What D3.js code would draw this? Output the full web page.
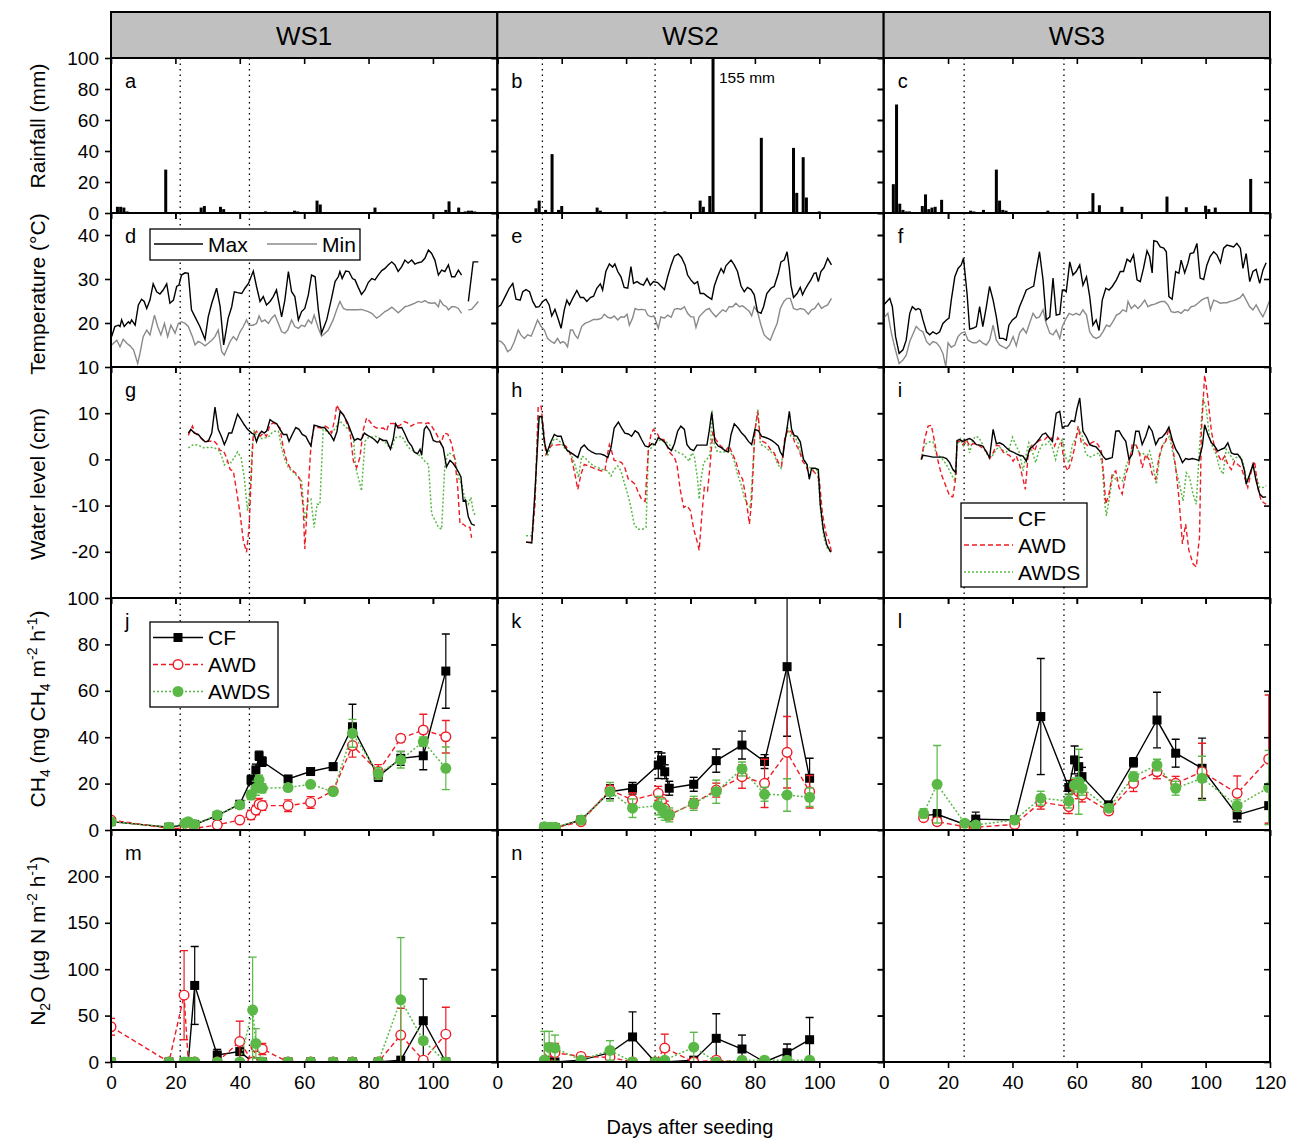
<!DOCTYPE html>
<html lang="en">
<head>
<meta charset="UTF-8">
<title>Rainfall, temperature, water level, CH4 and N2O</title>
<script src="https://cdn.jsdelivr.net/npm/d3@7"></script>
<style>
  body { margin: 0; background: #fff; }
  text { font-family: "Liberation Sans", Arial, sans-serif; }
</style>
</head>
<body>
<svg id="chart" width="1296" height="1138"></svg>
<script>
// ---------- data ----------
const sites = ["WS1", "WS2", "WS3"];
const floodDays = [[21.5, 43], [14, 49], [25, 56]];   // dotted vertical lines per site

// daily rainfall [day, mm]
const rainWS1 = [[2,4],[3,4],[4,3.5],[5,1],[17,28],[28,3.5],[29,4.5],[34,4],[35,2.5],[48,1],[57,1.5],[58,1],[64,8],[65,5.5],[82,3.5],[104,2],[105,7.5],[108,3.5],[110,1],[111,1.5],[112,1.5],[113,1]];
const rainWS2 = [[12,3],[13,8],[15,2],[17,38],[19,2],[20,4.5],[31,3.5],[32,1.5],[52,1],[63,8],[64,4],[66,11],[67,155],[82,48.5],[92,42],[93,13],[95,36],[96,10],[100,1]];
const rainWS3 = [[3,18.6],[4,70],[5,6],[6,2],[7,1],[8,1],[12,4.5],[13,12],[14,2.5],[15,3.5],[16,4],[18,8.5],[27,1.5],[28,1],[31,2],[35,28],[36,8],[37,2],[38,1.5],[41,0.5],[51,1.5],[64,1],[65,12.8],[67,5],[74,4],[88,10.6],[94,3.7],[100,4.7],[101,2.5],[103,3.5],[114,22]];

// air temperature [day, °C]
const tmaxWS1 = [[0.2,16.9],[1.2,19.2],[2.3,19.5],[2.8,19.2],[3.3,20.7],[4.1,19.2],[5.4,20.3],[5.9,19.9],[6.4,20.7],[7.5,19.5],[8.5,24.1],[9.5,25.4],[10.3,24.9],[11.1,23.3],[12.1,25.2],[13.1,28.9],[14.2,27.1],[15.2,26.6],[16.2,27.5],[17.3,28.9],[18.3,24.5],[19.4,25.2],[20.4,28.3],[21.1,28.6],[21.9,30.9],[23,31.4],[24,31.3],[25,23],[26.1,21.4],[27.6,19.2],[29.2,16.3],[30.2,21.4],[31.3,24.5],[32.8,27.9],[33.9,23.7],[35,15],[36.4,21.1],[37.5,23.7],[38.3,27.1],[39.3,26.9],[40.6,26.7],[41.6,27.9],[42.7,29],[44.2,31.8],[45.2,28.3],[46.3,24.9],[47.3,26],[48.3,24.1],[49.4,24.9],[50.4,26],[51.4,27.5],[53,21.4],[54,25.2],[55.1,31.7],[56.1,27.1],[57.1,26],[58.2,20.7],[59.2,22.6],[60.2,23.3],[61.3,26.4],[62.3,30.9],[63.4,30.5],[64.4,23],[65.4,17.7],[67,20.7],[68.5,25.6],[69.6,29.4],[70.6,30.5],[71.1,31.7],[71.8,30.1],[72.9,31.8],[73.9,31.7],[75,30.1],[75.8,29.8],[76.8,28.1],[77.8,26.5],[78.9,27.5],[79.9,29.2],[81,30.1],[82,29.8],[83,30.9],[84.1,31.9],[85.1,32.4],[86.1,33.2],[87.2,33.9],[88.2,33.2],[89.2,31.7],[90.3,32.8],[91.3,34.3],[92.3,33.6],[93.4,34.3],[94.4,33.4],[95.4,33.7],[96.5,33.9],[97.5,34.7],[98.6,36.6],[99.6,35.8],[100.6,34.3],[101.7,30.9],[102.7,32],[103.7,31.7],[104.8,33.2],[105.8,30.5],[106.8,30.5],[107.9,32],[108.9,30.9],[110,null],[111,24.9],[112.5,33.9],[114.1,33.9]];
const tminWS1 = [[0.2,15],[1.8,16.1],[2.8,14.6],[3.8,16.3],[4.9,15.4],[5.9,14.8],[7,13.9],[8.3,10.8],[9,13.1],[10,16.9],[11.1,18.4],[12.1,17.3],[13.5,21.8],[14.5,19.2],[15.5,17.3],[16.6,19.9],[17.6,16.9],[18.6,19.5],[19.9,17.7],[20.9,19.9],[21.9,20.3],[23,19.9],[24,19.2],[25.3,16.9],[26.1,15],[27.1,15.8],[28.2,15.4],[29.2,14.8],[30.2,15.4],[31.3,16.1],[32.3,16.9],[33.3,18.4],[34.4,13.5],[35.2,12.7],[35.9,13.9],[37,15.8],[38,16.9],[39,16.1],[40.1,18],[41.1,19.2],[42.1,20.7],[42.9,19.5],[44.2,19.5],[45.2,19.9],[46,21.6],[46.8,20.3],[47.8,20.7],[48.9,19.9],[49.9,21.1],[50.9,21.8],[52,19.9],[53,18],[54,17.7],[54.9,18.4],[56.1,20.7],[57.1,19.2],[58.2,18.8],[59.2,19.5],[60.2,19.2],[61.3,20.7],[62.3,19.9],[63.1,21.8],[64.4,18.8],[65.4,17],[66.5,17.7],[67.5,18.4],[69,20.7],[70.1,23],[71.1,24.9],[72.2,23.3],[73.2,23],[74.7,23],[76.8,23],[77.8,23.1],[79.9,22.6],[81,22.2],[82.5,21.1],[83.5,21.6],[85.1,22.6],[86.1,23],[87.2,23.6],[88.2,23],[89.2,22.3],[90.3,23],[91.3,23.7],[92.3,23.9],[93.4,24.2],[94.4,24.5],[95.4,24.9],[96.5,24.7],[97.5,25.1],[98.6,24.6],[99.6,24.5],[100.6,24.6],[101.7,23.7],[102.2,25.2],[103.2,24.1],[104.2,23.7],[104.8,23],[105.8,23.7],[106.8,23.7],[107.9,23.3],[108.9,22.2],[110,null],[111,23],[112,23.1],[114.1,24.9]];
const tmaxWS2 = [[0.1,23.6],[1.1,24.1],[2.7,26.4],[3.7,27.9],[4.8,29],[5.8,25.4],[7.1,25.2],[7.9,27.1],[8.9,27.6],[10,27.1],[11,24.9],[12,23.6],[13,23.7],[14.1,24.9],[15.1,25.4],[16.1,24.1],[16.9,21.6],[17.9,23.1],[19,20.7],[19.8,18.8],[20.8,23],[21.6,25.2],[22.4,24.1],[23.4,25.6],[24.7,27.4],[25.8,25.8],[26.8,25.8],[27.8,24.9],[28.9,25.8],[29.9,26.1],[30.9,27.9],[32,28.9],[32.7,27.5],[33.7,31.7],[34.8,33.4],[35.8,32.7],[36.5,33.4],[37.4,31.7],[38.4,30.5],[39.4,28.1],[40.5,27.9],[41.5,32.8],[42.3,29],[43.4,29.4],[44.4,28.9],[45.4,28.6],[46.5,30.1],[47.5,28.6],[48.5,29.4],[49.8,29.2],[50.8,28.4],[51.9,27.6],[52.9,30.5],[54,33.2],[55,35.2],[56.2,35.7],[57.2,34.9],[58.3,33.2],[59.1,30.9],[60.1,29.8],[61.2,28.9],[62.2,29.4],[63,26.7],[64.1,26.7],[65.1,26.1],[66.6,25.4],[67.4,28.4],[68.4,30.5],[69.5,32.4],[70.3,31.4],[71,33],[72.6,34.3],[73.6,33.2],[74.6,31.7],[75.7,28.4],[76.7,27.1],[77.7,28.1],[78.8,27.6],[79.8,26.4],[80.8,22.6],[81.9,22.2],[82.7,23.7],[83.7,26.7],[85,27.9],[86,28.3],[87.3,31.3],[88.1,33.9],[89.1,34.3],[90,36.2],[90.7,32.4],[91.2,28.6],[92,25.8],[93.1,26.7],[94.1,28.1],[94.8,26.4],[95.5,27.5],[96.6,28.9],[97.4,29.8],[98.4,31.3],[99,31.4],[99.7,29.4],[100.5,31.7],[101.5,32.6],[102.6,34.7],[103.8,33.2]];
const tminWS2 = [[0.1,16],[1.1,15.8],[2.2,15],[3.2,13.5],[4.2,14],[5.3,15.8],[6.5,18.4],[7.3,17.3],[8.4,16.5],[9.4,17.3],[10.5,17],[11.3,18.4],[12.5,20.7],[13.6,19.2],[14.6,18.4],[15.6,16.5],[16.7,15.8],[17.7,15.4],[18.7,16.5],[19.6,15.4],[20.3,15.8],[21,15.5],[21.8,14.6],[22.7,18.4],[23.4,18.4],[24.1,17.3],[25,16.5],[26.2,19.2],[27.2,19.9],[28.6,20.3],[29.9,20.8],[31.2,20.8],[32.4,21.1],[33.2,22],[34.3,21.3],[35.3,21.1],[36.3,21.6],[37.4,20.7],[38.4,21.4],[39.4,21.3],[40.3,22],[41,19.5],[42,21.1],[42.8,23.3],[43.8,23],[44.8,23.1],[45.9,23],[46.7,21.8],[47.7,21.4],[48.6,21.6],[49.3,20.3],[50,18.8],[50.8,21.4],[51.9,21.1],[52.9,21.8],[54,21.3],[55,23.1],[56,23.3],[57,23.1],[58.1,23.7],[59.1,22.2],[60.1,21.4],[61,21.4],[61.7,19],[62.7,21.4],[63.8,22.3],[64.8,23],[65.8,23.3],[66.9,22.2],[67.9,21.4],[69,22.3],[70,23],[71,22.6],[72,23.7],[73.1,23.7],[74.1,24.5],[75.2,23.7],[76.2,23.9],[77.2,23.3],[78.3,22.6],[79,21.6],[79.8,23.7],[80.8,22.6],[81.9,19.5],[82.9,17.3],[84,16.5],[84.8,16.1],[85.8,18],[86.9,19.9],[87.9,23.3],[89,24.9],[90,25.6],[91,25.6],[92,23.3],[93.1,23],[94.1,23.3],[95.3,23.1],[96.6,22],[97.6,23],[98.6,23.3],[99.7,24.5],[100.7,23.3],[101.5,23.7],[102.6,24.1],[103.8,25.6]];
const tmaxWS3 = [[0,24.1],[1,24.9],[1.9,25.6],[2.7,23.7],[3.7,16.9],[4.8,13.1],[6,13.9],[7,16.1],[8.1,22.2],[8.9,23.7],[10,23],[10.7,23.3],[11.4,23],[12.2,20.7],[13.3,18],[14.3,17.3],[15.3,18],[16.4,17.5],[17.4,18],[18.4,19.9],[19.5,20.7],[20.3,21.1],[21,25.2],[22.1,30.5],[23.1,32.4],[24.1,33.2],[24.8,34.7],[25.9,26.7],[26.7,18.6],[27.7,18.8],[28.8,19.2],[29.8,23.7],[30.8,19.2],[31.9,23.7],[32.9,28.3],[34,25.2],[35,21.4],[36,16.5],[37.1,16.5],[38.1,16.1],[38.9,19.5],[40,20.7],[41.2,21.4],[42.2,23.7],[43.3,25.6],[44.3,27.5],[45.3,27.9],[46.6,28.4],[47.4,32],[48.4,36.2],[49.5,29.8],[50.5,20.7],[51.6,21.4],[52.6,30.2],[53.6,21.8],[54.7,22],[55.5,27.5],[56.2,27.5],[56.7,27.1],[57.8,33.9],[58.8,30.9],[59.8,31.7],[60.9,33.2],[61.9,28.6],[63,30.5],[64,26],[65,19.5],[66,20.7],[66.9,18.3],[67.9,25.2],[69,27.9],[70,27.5],[71,28.3],[72.3,29.8],[73.5,31.7],[74.5,31.7],[75.6,34.5],[76.6,33.9],[77.6,35.5],[78.7,29.8],[79.7,29.4],[80.7,32.4],[81.8,36.4],[82.6,35.1],[83.4,31.4],[83.9,38.7],[84.9,38.5],[85.9,37.3],[87,37],[87.8,36.2],[88.6,26],[89.6,25.4],[90.7,31.7],[91.7,31.3],[92.4,34.3],[93.5,31.4],[94.5,33.6],[95.2,35.8],[96.3,36],[97.3,38.1],[98.3,30.2],[99.4,29.9],[100.4,33.2],[101.4,35.1],[102.5,36.2],[103.5,35.5],[104.6,33.7],[105.6,37],[106.6,37.7],[107.7,37.5],[108.7,37.3],[109.7,38.1],[110.8,37],[111.6,32.4],[112.6,35.8],[113.7,29.4],[114.7,31.7],[115.7,32.2],[116.8,29],[117.8,32],[118.8,33.7]];
const tminWS3 = [[0,21.1],[1.3,22.2],[2.4,17.7],[3.4,14.6],[4.8,10.8],[6,11.6],[7,12.7],[8.1,15.8],[9.1,17.5],[10.1,19.2],[11.2,18.4],[12.2,18],[13.3,15.8],[14.3,15],[15.3,15.8],[16.4,15.5],[17.4,14.6],[18.4,13.1],[19.3,10.1],[20,15.5],[21,14.5],[22.1,15],[23.1,16.9],[24.1,17.7],[25.2,18],[26.2,16.1],[27.7,15.5],[28.8,15.5],[29.8,16.1],[30.8,15.4],[31.9,15],[32.9,16.1],[34,19.5],[35,16.1],[36,15],[37.1,14.6],[38.1,14.2],[39.1,15],[40.2,16.9],[41.2,14.8],[42.2,17.7],[43.3,18.8],[44.3,17.7],[45.3,19.9],[46.4,22.2],[47.4,21.1],[48.4,21.4],[49.5,23],[50.5,19.9],[51.6,17.7],[52.6,17.3],[53.6,18.4],[54.7,16.5],[55.5,19.2],[56.5,20.8],[57.6,22.2],[58.8,21.8],[59.8,22.2],[60.9,21.8],[61.9,23],[63,21.8],[64,18],[65,16.9],[66,16.5],[67.1,16.9],[68.1,18],[69.2,19.5],[70.2,19.2],[71.2,20.3],[72.3,21.8],[73.3,22.2],[74.3,23],[75.4,22.6],[75.9,24.9],[76.9,23.3],[78,24.1],[79,23.3],[80,24.1],[81.1,25.2],[82.1,23.7],[83.1,24.1],[84.2,24.3],[85.2,24.6],[86.2,24.9],[87.3,24.9],[88.3,24.1],[89.3,22.6],[90.4,22.4],[91.4,22.6],[92.4,22.2],[93.5,23],[94.5,22.8],[95.5,23.7],[96.6,23.9],[97.6,24.5],[98.7,25.2],[99.7,25.6],[100.7,25.8],[101.5,23],[102.5,25.2],[103.5,24.9],[104.6,24.5],[105.6,24.6],[106.6,24.6],[107.7,24.9],[108.7,25.1],[109.7,25.4],[110.8,25.8],[111.6,26.6],[112.6,25.2],[113.7,23.7],[114.7,23],[115.7,24.1],[116.8,22.6],[117.8,21.4],[118.8,23],[119.9,25.2]];

// field water level [day, cm]
const wlCF_WS1 = [[24,5.7],[24.8,6.5],[25.9,5.7],[27.1,5.4],[28.2,4.5],[29.2,3.8],[30.2,3.9],[31.3,5.7],[32.3,11.3],[33.3,6.5],[34.4,4.8],[35.2,3.2],[35.9,4.3],[36.6,5.7],[37.5,5.7],[38.3,7.5],[39.3,9.8],[40.4,8.6],[41.4,7.5],[42.4,6.5],[43.7,5.7],[44.5,5.4],[45.2,3.8],[46,5.4],[46.8,6.1],[47.6,5.7],[48.4,6.2],[49.4,8.6],[50.4,8.1],[51.5,7.7],[52.5,6.5],[53.5,5.4],[54.6,5.4],[55.3,3.9],[56.3,5.4],[57.4,6.9],[58.4,6.5],[59.4,5.4],[60.5,5],[61.3,3.9],[62.1,2.9],[63.1,7.4],[64.2,7.2],[65.4,6.9],[66.3,6.9],[67.3,6.1],[68.3,5.2],[69.2,4.1],[70.2,6.1],[71.2,10.5],[72.3,9.5],[73.5,7.9],[74.5,6.1],[75.6,4.1],[76.6,4.5],[77.6,4.2],[78.7,5.7],[79.7,5.2],[80.8,4.8],[81.8,4.3],[82.8,3.6],[83.5,4.5],[84.6,4.1],[85.6,4.1],[86.8,2.2],[87.7,4.5],[88.4,7.7],[89.2,6.8],[90.3,6.9],[91.3,5.5],[92.3,3.9],[93.4,2.9],[94.2,1.6],[95.2,1.2],[96,2.2],[96.5,0.9],[97.3,6.5],[98,7.2],[99.1,6.1],[100.1,4.1],[101.1,3.8],[102.2,3.8],[103.2,2.5],[104.2,-1.6],[105.3,-0.2],[106.3,-0.9],[107.7,-2.4],[108.7,-3.8],[109.4,-9],[110.1,-8.8],[111,-12.5],[112,-14],[113,-14.3]];
const wlAWD_WS1 = [[24,5.2],[25.3,7.2],[26.1,5.7],[27.3,5],[28.7,4.1],[29.7,4.1],[30.8,3.9],[31.8,4.1],[32.8,3.4],[33.9,1.9],[34.9,1.9],[35.9,0.4],[37,-2.2],[38,-2.5],[39,-6.8],[40.1,-11.8],[41.1,-17.6],[42.1,-20.1],[42.9,-14.7],[43.5,-4.7],[44.2,5.4],[45.2,6.1],[46.3,5],[47.3,5.7],[48.3,5],[49.4,7.5],[50.4,7.9],[51.5,7.5],[52.5,6.8],[53.5,2.5],[54.6,-0.4],[55.6,-1.8],[56.6,-2.5],[57.7,-3.2],[58.7,-4.3],[59.7,-10.4],[60.2,-19.4],[61.1,-8.2],[62.1,2.9],[63.1,7.2],[64.4,6.9],[65.4,6.8],[66.5,7.2],[67.5,6.8],[68.5,5.7],[69.6,9],[70.1,11.8],[71.1,10.4],[72.2,9.7],[73.2,7.9],[74.2,6.1],[75.3,-0.4],[76.3,-1.8],[77.3,0.4],[78.4,6.5],[79.4,9],[80.4,8.2],[81.5,7.2],[82.5,6.8],[83.5,6.7],[84.6,6.8],[85.6,6.1],[86.3,7.7],[87.4,7.8],[88.4,7.7],[89.4,7.2],[90.3,7.7],[91.1,8.2],[92.1,7.9],[93.2,7.2],[94.4,7.7],[95.4,7.9],[96.5,7.9],[97.5,7.7],[98.6,7.9],[99.6,7.2],[100.6,6.1],[101.7,4.7],[102.5,3.4],[103.5,5.7],[104.6,5.5],[105.8,3.4],[106.8,0],[107.7,-6.1],[108.4,-14],[109.4,-14],[110.5,-14.7],[111.5,-14.7],[112,-17]];
const wlAWDS_WS1 = [[24,2.5],[25.6,3.2],[27.1,3.1],[28.7,2.5],[30.2,2.6],[31.8,2.6],[33.3,2.1],[34.4,0.7],[35.2,-1.2],[36.2,-0.4],[37.3,-0.7],[38.3,0.4],[39.3,1.6],[40.4,0.4],[41.4,-3.9],[42.4,-11.1],[43.2,-7.2],[43.9,3.2],[44.5,6.1],[45.5,4.8],[46.8,4.5],[47.8,4.7],[48.9,4.8],[49.9,5.7],[50.9,6.1],[52,6.1],[53,2.5],[54,0],[55.1,-1.8],[56.1,-2.4],[57.1,-3.1],[58.2,-3.9],[59.2,-4.7],[60.2,-13.3],[61.3,-9],[62.1,-8.6],[63.1,-14.7],[64,-9.7],[64.9,-9.7],[65.9,6.5],[67,6.1],[68,5.4],[69,6.1],[70.1,7.2],[71.1,8.3],[72.2,7.5],[73.2,6.8],[74.2,6.1],[75.3,4.7],[76,-1.8],[76.8,-3.9],[77.8,-6.8],[78.9,3.9],[79.9,4.7],[81,4.8],[82,5],[83,4.8],[84.1,4.1],[85.1,3.8],[86.1,2.9],[87.2,2.5],[88.2,4.7],[89.2,4.8],[90.3,5],[91.3,3.9],[92.3,2.6],[93.4,2.1],[94.4,1.6],[95.4,1.1],[96.5,0.4],[97.5,-0.4],[98.6,-1.1],[99.6,-11.8],[100.6,-13.1],[101.7,-14.7],[102.7,-15.1],[103.7,-1.1],[104.8,1.4],[105.8,1.2],[106.8,0.4],[107.9,-3.9],[108.9,-5.4],[110,-8.6],[111,-9.7],[111.8,-8.2],[112.5,-11.1],[113.2,-12.2]];
const wlCF_WS2 = [[8.9,-17.9],[10.7,-18.1],[11.7,-6.8],[13,9.3],[13.8,9.3],[14.6,3.9],[15.4,1.4],[16.5,3.6],[17.7,5.4],[18.7,5],[19.8,5],[20.8,2.9],[21.8,1.9],[23.4,1.2],[25,0.4],[26,2.5],[27,3.1],[28.1,2.2],[29.3,1.6],[30.6,1.2],[32,1.2],[33.2,0.9],[34.3,0.4],[35.3,2.5],[36.3,6.8],[37.6,8.1],[38.6,6.8],[39.6,5.7],[40.7,5.5],[41.7,5],[42.8,6.2],[43.8,5.7],[44.8,4.3],[45.9,2.9],[46.9,2.7],[48,3.4],[49,3.2],[50,4.7],[51,4.3],[52.1,3.6],[53.1,2.5],[54.1,1.9],[55,3.4],[56,6.1],[57,7.2],[58.1,6.5],[58.9,3.2],[60,2.2],[61,1.9],[62,3.1],[63,3.1],[64.1,3.1],[65.1,3.1],[65.8,6.1],[66.6,10.2],[67.6,3.8],[68.6,2.9],[69.7,2.5],[70.7,1.9],[71.7,1.6],[72.6,5.4],[73.6,7.7],[74.8,6.8],[75.9,5.7],[76.9,5],[78,3.9],[79,3.2],[80,6.5],[81.1,6.2],[82.1,5],[83.1,4.8],[84.2,4.5],[85.2,4.1],[86.2,3.6],[87.3,2.9],[87.9,1.6],[88.7,0.7],[89.3,3.8],[90,6.8],[90.7,10.4],[91.4,6.5],[92.2,5.2],[93.1,5],[94.1,3.8],[95.1,0],[96.2,-1.1],[96.9,-4.3],[97.6,-1.9],[98.7,-1.9],[99.7,-2.2],[100.3,-9.7],[101.3,-15.4],[102.4,-18.6],[103.6,-20.1]];
const wlAWD_WS2 = [[8.9,-17.9],[10.7,-17.9],[11.7,-9.7],[12.7,11.5],[13.6,11.5],[14.4,6.1],[15.1,1.1],[16.1,2.5],[17.2,3.2],[18.2,3.1],[19.3,3.2],[20.3,3.2],[21.3,2.9],[22.7,1.2],[23.9,-2.5],[25,-6.5],[26,-3.2],[27,-1.1],[28.3,-1.4],[29.6,-1.8],[31.2,-2.2],[32.4,-2.5],[33.4,-2.5],[34.3,1.4],[34.8,3.2],[35.5,1.8],[36.3,-0.2],[37.6,-0.4],[38.6,-0.7],[39.6,-1.8],[40.7,-4.3],[41.7,-4.7],[42.8,-5.4],[43.8,-7.2],[44.8,-8.6],[45.9,-9.1],[46.9,1.8],[47.7,5.4],[48.5,6.5],[49.6,5.7],[50.6,4.3],[51.7,4.3],[52.7,2.9],[53.7,1.4],[55,0.4],[55.8,-1.1],[56.8,-6.5],[57.9,-10.4],[58.9,-10],[60,-11.1],[61,-15.1],[62,-17.6],[62.7,-19.7],[63.5,-12.2],[64.3,-6.1],[65.3,-6.8],[66.1,-1.1],[66.9,5.7],[67.9,4.3],[69,3.2],[70,2.5],[71,1.9],[72,2.9],[73.1,1.1],[74.1,-0.4],[75.2,-3.2],[76.2,-4.3],[77.2,-8.2],[78.3,-14],[79,-9],[80,6.1],[80.9,10.4],[81.7,4.1],[82.7,3.8],[83.7,3.4],[84.8,2.2],[86,1.4],[87.3,-0.7],[88.3,-1.4],[89.3,4.7],[90.4,6.5],[91.4,5.9],[92.4,3.6],[93.8,1.9],[94.8,-0.4],[95.9,-1.4],[96.9,-3.6],[98,-2.4],[99,-3.2],[100,-4.3],[101,-11.8],[102.1,-16.1],[103.1,-17.9],[103.8,-20.1]];
const wlAWDS_WS2 = [[8.9,-16.5],[10.7,-16.5],[11.7,-8.2],[12.7,8.9],[13.8,9.3],[14.6,3.2],[15.6,0.7],[16.7,3.2],[17.7,4.5],[18.7,4.3],[19.8,3.6],[20.8,2.5],[21.8,1.8],[23.1,0.7],[24.1,-1.1],[25.2,-3.9],[26.2,0.7],[27.2,0.4],[28.6,-0.7],[29.9,-1.4],[31.4,-1.8],[32.7,-2.2],[34.3,-2.5],[35.3,-3.6],[36.3,-2.2],[37.4,-1.4],[38.4,-2.5],[39.4,-5],[40.5,-7.5],[41.5,-10.4],[42.5,-14],[43.6,-15.1],[45.1,-15.1],[46.2,-14.7],[46.9,1.9],[48,2.6],[49,3.6],[50.3,4.1],[51.3,4.3],[52.4,3.8],[53.4,3.2],[54.5,2.5],[55.5,1.8],[56.5,1.4],[57.6,1.1],[58.6,0.4],[59.6,-0.4],[60.4,1.4],[61.2,0.7],[62.2,-4.3],[62.7,-8.6],[63.2,-4.7],[64.1,-0.7],[65.1,0],[66.1,1.1],[66.7,10.8],[67.4,3.2],[68.4,1.6],[69.5,1.6],[70.5,1.6],[71.5,2.4],[72.6,1.4],[73.6,-0.4],[74.6,-3.2],[75.7,-5.4],[76.7,-8.2],[77.7,-9.7],[78.6,-10.4],[79.3,-2.5],[80,6.1],[80.9,10.8],[81.7,3.2],[82.9,2.9],[84,2.2],[85,1.6],[86,1.1],[87.1,-1.1],[88.1,-1.9],[89.1,3.2],[90.2,6.8],[91.2,5],[92.2,5],[93.3,3.8],[94.3,1.1],[95.3,0],[96.4,-1.4],[97.4,-1.9],[98.4,-2.5],[99.5,-2.2],[100.5,-11.8],[101.5,-17.2],[102.6,-19.4],[103.6,-20.1]];
const wlCF_WS3 = [[11.7,0],[12.2,0.9],[13.8,0.7],[15.3,0.5],[16.9,0.5],[18.4,0.5],[19.5,0.2],[20.5,-0.7],[21.5,-2.2],[22.4,-2.9],[22.8,4.1],[23.6,4.3],[24.6,3.9],[25.7,4.3],[26.7,4.5],[27.7,4.1],[28.8,3.2],[29.8,3.1],[30.8,2.9],[31.9,1.6],[32.9,0.4],[34,6.5],[35,3.4],[36,3.6],[37.1,3.2],[38.1,2.5],[39.1,1.9],[40.2,1.6],[41.2,1.2],[42.2,0.9],[43.3,0.7],[44.3,-0.4],[45.3,2.2],[46.4,2.9],[47.4,3.6],[48.2,4.3],[49.3,5.4],[50.3,5.7],[51.4,4.7],[52.4,3.9],[53.6,10],[54.7,10.4],[55.5,6.8],[56.2,7.2],[57.2,7.2],[58.3,8.4],[59.3,8.2],[60,10.8],[60.9,13.3],[61.9,6.1],[63,4.8],[64,3.2],[65,2.9],[66,2.7],[67.1,1.8],[68.1,0.7],[69,0],[70,0.2],[71,0.4],[72.1,6.1],[73.1,6.2],[74.1,5],[75.2,3.9],[76.2,0],[77.2,1.1],[78.3,6.1],[79.3,6.1],[80.3,3.2],[81.4,5],[82.4,7.2],[83.4,6.1],[84.5,3.2],[85.5,4.5],[86.5,4.8],[87.6,5.7],[88.6,7],[89.7,4.1],[90.7,2.2],[91.7,1.1],[92.8,-0.7],[93.8,0.2],[94.8,0],[95.9,0.2],[96.9,0],[97.9,-0.2],[99,2.9],[99.7,7.5],[100.7,5.4],[101.8,3.6],[102.8,2.9],[103.8,1.8],[104.9,2.2],[105.9,2.5],[106.9,3.6],[108,1.4],[109,1.1],[110,1.1],[111.1,0],[112.1,-2.5],[112.6,-5.4],[113.7,-3.2],[114.7,-1.1],[115.7,-4.7],[116.8,-7.5],[117.8,-8.2],[118.8,-8.1]];
const wlAWD_WS3 = [[11.7,0],[12.7,4.3],[13.8,7.2],[14.8,7.4],[15.8,3.9],[16.9,-0.4],[17.9,-3.2],[19.5,-6.1],[20.5,-7.9],[21.5,-8.1],[22.4,-3.9],[22.8,3.9],[23.6,3.9],[24.6,3.2],[25.7,4.3],[26.7,2.9],[27.7,3.4],[28.8,3.4],[29.8,2.9],[30.8,2.4],[31.9,1.8],[32.9,0.2],[34,1.4],[35,3.1],[36,2.9],[37.1,1.6],[38.1,1.1],[39.1,0.9],[40.2,-0.4],[41.2,0.7],[42.2,-1.1],[43.3,-4.3],[44,-6.5],[44.8,0.4],[45.9,3.2],[46.9,1.8],[47.9,3.9],[49,4.3],[50,4.3],[51,5],[52.1,4.7],[53.1,2.9],[54.1,4.7],[55.2,3.6],[56.2,-1.1],[57.2,-2.5],[58.3,-0.4],[59.3,2.5],[60.4,7.2],[61.4,3.6],[62.4,3.6],[63.5,2.9],[64.5,3.6],[65.5,3.9],[66.6,3.2],[67.6,1.8],[68.3,-3.2],[69,-9.7],[70,-7.5],[71,-3.2],[72.1,-2.5],[73.1,-6.1],[74.1,-7.5],[75.2,-3.2],[76.2,-1.1],[77.2,3.2],[78.3,3.2],[79.3,1.8],[80.3,-1.8],[81.4,1.1],[82.4,0],[83.4,-3.2],[84.5,-4.3],[85.5,0.4],[86.5,2.9],[87.6,3.9],[88.6,6.8],[89.7,3.2],[90.7,-1.8],[91.7,-8.2],[92.8,-18.3],[93.8,-14],[94.8,-19.7],[96.1,-22.6],[97.1,-23.3],[98.1,-16.8],[98.7,6.1],[99.7,18.3],[100.7,13.3],[101.8,6.1],[102.8,2.5],[103.8,1.1],[104.9,-0.4],[105.9,0.7],[106.9,-1.1],[108,-2.2],[109,-0.4],[110,-1.1],[111.1,-1.8],[112.1,-3.9],[113.1,-6.1],[114.2,-2.5],[115.2,-0.4],[116.3,-6.5],[117.3,-9],[118.8,-9.7]];
const wlAWDS_WS3 = [[11.7,0],[12.7,3.2],[14.3,3.8],[15.3,3.8],[16.4,1.1],[17.9,0.4],[19.5,-1.1],[21,-3.2],[22.1,-4.7],[22.8,3.2],[23.8,4.5],[24.8,2.9],[25.9,4.1],[26.7,1.4],[27.7,4.3],[28.6,5],[29.6,4.7],[30.6,3.4],[31.7,1.6],[32.7,0.5],[33.7,0.7],[35,2.2],[36,2.7],[37.1,1.9],[38.1,1.6],[39.1,2.5],[40,4.8],[41.2,2.9],[42.2,1.4],[43.3,-2.5],[44.3,1.1],[45.1,3.6],[46.2,1.6],[47.2,-0.7],[48.2,1.8],[49.3,3.2],[50.3,3.2],[51.4,3.9],[52.4,2.5],[53.4,0],[54.5,3.2],[55.5,4.3],[56.5,0.4],[57.6,-0.7],[58.6,3.2],[59.6,4.5],[60.7,6.5],[61.7,5],[62.7,1.4],[63.8,0.5],[64.8,0.7],[65.8,1.1],[66.9,1.4],[67.9,-1.1],[68.7,-9.7],[69.2,-12.2],[70.2,-7.9],[71.2,-3.2],[72.3,-4.7],[73.3,-3.9],[74.3,-4.7],[75.4,-1.1],[76.4,0],[77.4,3.2],[78.5,2.9],[79.5,1.1],[80.5,1.4],[81.6,0.4],[82.6,1.8],[83.6,-1.1],[84.7,-5.4],[85.7,0.4],[86.8,3.2],[87.8,4.3],[88.8,5],[89.9,1.1],[90.9,-2.5],[91.9,-5.4],[93,-9],[94,-2.9],[95,-3.9],[96.1,-7.5],[97.1,-9.7],[98.1,2.5],[99.2,13.3],[100.2,11.1],[101.2,4.7],[102.3,2.5],[103.3,1.1],[104.3,-1.8],[105.4,-3.2],[106.4,2.2],[107.5,1.1],[108.5,0],[109.5,0.4],[110.6,0.7],[111.6,-0.4],[112.6,-4.3],[113.7,-3.6],[114.7,-1.1],[115.7,-3.6],[116.8,-6.1],[117.8,-6.1],[118.8,-5.7]];

// CH4 flux: sampling days, then [mean, error] per treatment
const ch4DaysWS1 = [0,18,23,24,26,33,40,43.5,45,46,47,55,62,69,75,83,90,97,104];
const ch4CF_WS1   = [[3.6,1],[1.2,0.5],[2.2,0.5],[2.9,0.5],[2.4,0.5],[6.2,1],[11.1,1.5],[21.6,2],[25.9,2.5],[32,2],[29.5,2],[22,1],[25.2,1],[27.3,1.5],[44.5,9.7],[23,2],[30.9,3],[32,6],[68.5,16]];
const ch4AWD_WS1  = [[4.3,1],[0.7,0.3],[0.7,0.3],[0.7,0.3],[0.7,0.3],[2.2,1],[4.3,1],[6.5,2],[8.6,2],[11.1,2.5],[10.5,2],[10.5,2.5],[11.9,2.5],[16.8,1.5],[36.4,5],[25.2,3],[39.5,1.5],[43.1,6.8],[40.2,7]];
const ch4AWDS_WS1 = [[3.6,1],[1.2,0.5],[2.9,0.5],[3.6,0.5],[2.4,0.5],[6.5,1],[10.8,1],[15.1,2],[18,3],[21.6,2],[18,2],[18.3,1.5],[19.7,1],[16.5,1.5],[41.7,6],[24.4,2.5],[30.2,3.5],[38.1,2],[26.6,9.2]];
const ch4DaysWS2 = [14.6,16.5,18,26,35,42,50,51,52,53.4,61,68,76,83,90,97];
const ch4CF_WS2   = [[1.2,0.5],[1,0.5],[1,0.5],[4.3,1],[16.5,3],[18,2.5],[28,5.8],[30.2,3],[25.1,3],[18,3],[19.7,3],[29.9,5],[36.6,6],[29.5,3],[70.4,30],[22.3,8.6]];
const ch4AWD_WS2  = [[1,0.3],[1,0.3],[1,0.3],[3.6,1],[17.2,2],[13,3],[15.8,3],[12.2,3],[9.4,3],[6.5,2],[11.5,2],[17.2,3],[23,5],[20.1,10.4],[33.5,15.4],[16.5,7]];
const ch4AWDS_WS2 = [[1.4,0.5],[1.2,0.5],[1.2,0.5],[4.3,1],[16.5,4],[9.4,4],[10.5,4],[9.4,4],[7.2,3],[6.5,3],[11.5,3],[16.5,5],[26.3,3],[15.4,3],[15.1,7],[14.1,4]];
const ch4DaysWS3 = [12.4,16.6,25.2,28.6,40.7,48.8,57.5,59.3,60.6,61.6,69.9,77.6,84.9,90.7,98.9,109.8,119.6];
const ch4CF_WS3   = [[6.2,1.5],[6.8,2],[2.4,1],[4.7,3],[4.3,1],[48.9,25],[18.3,3],[30.2,6],[27.3,4],[23,4],[10.8,1.5],[29.2,2],[47.4,12],[33.1,6],[26.6,13],[6.5,3],[10.5,8]];
const ch4AWD_WS3  = [[5.3,1],[3.6,1.5],[1.4,0.5],[1.2,0.5],[2.4,1],[12,3],[10.1,3],[18.7,3],[16.5,3],[15.1,3],[8.2,1.5],[20.1,3.5],[25.1,3],[20.1,3],[25.1,12.3],[15.8,7.5],[30.6,27.6]];
const ch4AWDS_WS3 = [[7.2,2],[19.7,16.7],[2.9,1],[2.2,1],[4.3,1],[13.7,3],[12.5,3],[19.4,3],[20.8,14],[18,3],[9.4,1.5],[23,2],[28,2.5],[18,3],[22.3,9.5],[10.5,2.5],[18.3,16]];

// N2O flux: sampling days, then [mean, error] per treatment
const n2oDaysWS1 = [0,18,22.7,24,26,33,40,44,45,47,55,62,69,75,83,90,97,104];
const n2oCF_WS1   = [[0,0],[0,0],[0,0],[0,0],[82.5,42],[7.6,6],[11.2,9],[0,0],[0,0],[0,0],[0,0],[0,0],[0,0],[0,0],[0,0],[2,0],[44.5,45],[0,0]];
const n2oAWD_WS1  = [[38,9],[0,0],[72,48],[0,0],[0,0],[0,0],[22,22],[0,0],[16.5,5],[14,6],[0,0],[0,0],[0,0],[0,0],[0,0],[29,29],[2,0],[30,29]];
const n2oAWDS_WS1 = [[0,0],[0,0],[0,0],[0,0],[0,0],[0,0],[0,0],[56,57],[20,16],[0,0],[0,0],[0,0],[0,0],[0,0],[0,0],[67,67],[23,0],[0,0]];
const n2oDaysWS2 = [14.6,16.1,17.9,26,35,42,49,52,61,68,76,83,90,97];
const n2oCF_WS2   = [[0,0],[0,0],[0,0],[2,1],[10,3],[27,27],[0,0],[0,0],[2,1],[25.5,26.5],[14,15],[0,0],[10,9.4],[24,24]];
const n2oAWD_WS2  = [[0,0],[11,9],[10,10],[6,1],[5,2],[0,0],[0,0],[15,15],[0,0],[2,0],[0,0],[0,0],[0,0],[0,0]];
const n2oAWDS_WS2 = [[2,31],[16,17],[15,14],[2,1],[12.5,10.5],[0,0],[0,0],[2,1],[16,16],[0,0],[2,0],[2,0],[2,0],[2,0]];

// ---------- layout ----------
const svg = d3.select("#chart");
const colX = [111, 497.33, 883.67], colW = 386.33;
const rowY = [58, 213, 367, 598, 830, 1062];
const yDomains = [[0, 100], [10, 45], [-30, 20], [0, 100], [0, 250]];
const yTickVals = [[0,20,40,60,80,100], [10,20,30,40], [-20,-10,0,10], [0,20,40,60,80,100], [0,50,100,150,200]];
const xTickVals = [0,20,40,60,80,100,120];
const letters = [["a","b","c"], ["d","e","f"], ["g","h","i"], ["j","k","l"], ["m","n",""]];
const RED = "#ee1c25", GREEN = "#5ab946", GRAY = "#8a8a8a";
const style = {
  CF:   { color: "#000", dash: null,  w: 1.4 },
  AWD:  { color: RED,    dash: "5,3", w: 1.4 },
  AWDS: { color: GREEN,  dash: "2,2", w: 1.5 }
};

const rain = [rainWS1, rainWS2, rainWS3];
const tmax = [tmaxWS1, tmaxWS2, tmaxWS3];
const tmin = [tminWS1, tminWS2, tminWS3];
const wl = [
  { CF: wlCF_WS1, AWD: wlAWD_WS1, AWDS: wlAWDS_WS1 },
  { CF: wlCF_WS2, AWD: wlAWD_WS2, AWDS: wlAWDS_WS2 },
  { CF: wlCF_WS3, AWD: wlAWD_WS3, AWDS: wlAWDS_WS3 }
];
const ch4 = [
  { days: ch4DaysWS1, CF: ch4CF_WS1, AWD: ch4AWD_WS1, AWDS: ch4AWDS_WS1 },
  { days: ch4DaysWS2, CF: ch4CF_WS2, AWD: ch4AWD_WS2, AWDS: ch4AWDS_WS2 },
  { days: ch4DaysWS3, CF: ch4CF_WS3, AWD: ch4AWD_WS3, AWDS: ch4AWDS_WS3 }
];
const n2o = [
  { days: n2oDaysWS1, CF: n2oCF_WS1, AWD: n2oAWD_WS1, AWDS: n2oAWDS_WS1 },
  { days: n2oDaysWS2, CF: n2oCF_WS2, AWD: n2oAWD_WS2, AWDS: n2oAWDS_WS2 },
  null
];

// header strips
sites.forEach((s, c) => {
  svg.append("rect").attr("x", colX[c]).attr("y", 12).attr("width", colW).attr("height", rowY[0] - 12)
    .attr("fill", "#c0c0c0").attr("stroke", "#000").attr("stroke-width", 2);
  svg.append("text").attr("x", colX[c] + colW / 2).attr("y", 45).attr("text-anchor", "middle")
    .attr("font-size", 26).text(s);
});

const defs = svg.append("defs");

function drawSeriesLine(g, x, y, pts, st) {
  g.append("path").datum(pts)
    .attr("d", d3.line().defined(d => d[1] != null).x(d => x(d[0])).y(d => y(d[1])))
    .attr("fill", "none").attr("stroke", st.color).attr("stroke-width", st.w)
    .attr("stroke-dasharray", st.dash);
}

function drawMarker(g, cx, cy, kind) {
  if (kind === "CF") {
    g.append("rect").attr("x", cx - 4.5).attr("y", cy - 4.5).attr("width", 9).attr("height", 9).attr("fill", "#000");
  } else if (kind === "AWD") {
    g.append("circle").attr("cx", cx).attr("cy", cy).attr("r", 4.8).attr("fill", "#fff")
      .attr("stroke", RED).attr("stroke-width", 1.4);
  } else {
    g.append("circle").attr("cx", cx).attr("cy", cy).attr("r", 5.5).attr("fill", GREEN);
  }
}

function drawFlux(g, x, y, set) {
  ["CF", "AWD", "AWDS"].forEach(k => {
    const st = style[k];
    const pts = set.days.map((d, i) => [d, set[k][i][0], set[k][i][1]]);
    drawSeriesLine(g, x, y, pts, st);
    pts.forEach(p => {
      if (p[2] > 0) {
        const x0 = x(p[0]), yt = y(p[1] + p[2]), yb = y(Math.max(0, p[1] - p[2]));
        g.append("line").attr("x1", x0).attr("x2", x0).attr("y1", yt).attr("y2", yb)
          .attr("stroke", st.color).attr("stroke-width", 1.2);
        [yt, yb].forEach(yy => g.append("line").attr("x1", x0 - 4).attr("x2", x0 + 4)
          .attr("y1", yy).attr("y2", yy).attr("stroke", st.color).attr("stroke-width", 1.4));
      }
    });
    pts.forEach(p => drawMarker(g, x(p[0]), y(p[1]), k));
  });
}

for (let r = 0; r < 5; r++) {
  for (let c = 0; c < 3; c++) {
    const x = d3.scaleLinear().domain([0, 120]).range([colX[c], colX[c] + colW]);
    const y = d3.scaleLinear().domain(yDomains[r]).range([rowY[r + 1], rowY[r]]);
    const id = "clip" + r + c;
    defs.append("clipPath").attr("id", id).append("rect")
      .attr("x", colX[c]).attr("y", rowY[r]).attr("width", colW).attr("height", rowY[r + 1] - rowY[r]);
    const g = svg.append("g").attr("clip-path", `url(#${id})`);

    // flooding/drainage markers
    floodDays[c].forEach(d => {
      g.append("line").attr("x1", x(d)).attr("x2", x(d)).attr("y1", rowY[r]).attr("y2", rowY[r + 1])
        .attr("stroke", "#000").attr("stroke-width", 1.3).attr("stroke-dasharray", "1.5,4");
    });

    if (r === 0) {
      g.selectAll(".bar").data(rain[c]).enter().append("rect")
        .attr("x", d => x(d[0]) - 1.5).attr("width", 3)
        .attr("y", d => y(d[1])).attr("height", d => y(0) - y(d[1])).attr("fill", "#000");
    } else if (r === 1) {
      drawSeriesLine(g, x, y, tmin[c], { color: GRAY, dash: null, w: 1.4 });
      drawSeriesLine(g, x, y, tmax[c], { color: "#000", dash: null, w: 1.4 });
    } else if (r === 2) {
      drawSeriesLine(g, x, y, wl[c].AWDS, style.AWDS);
      drawSeriesLine(g, x, y, wl[c].AWD, style.AWD);
      drawSeriesLine(g, x, y, wl[c].CF, style.CF);
    } else if (r === 3) {
      drawFlux(g, x, y, ch4[c]);
    } else if (r === 4 && n2o[c]) {
      drawFlux(g, x, y, n2o[c]);
    }

    // axes: outward ticks left/bottom, inward ticks right/top
    const fs = 19;
    const bottom = svg.append("g").attr("transform", `translate(0,${rowY[r + 1]})`)
      .call(d3.axisBottom(x).tickValues(xTickVals).tickSize(6).tickPadding(8)
        .tickFormat(d => (r === 4 && !(c < 2 && d === 120)) ? d : ""));
    const top = svg.append("g").attr("transform", `translate(0,${rowY[r]})`)
      .call(d3.axisTop(x).tickValues(xTickVals).tickSize(-6).tickFormat(""));
    const left = svg.append("g").attr("transform", `translate(${colX[c]},0)`)
      .call(d3.axisLeft(y).tickValues(yTickVals[r]).tickSize(6).tickPadding(6)
        .tickFormat(d => c === 0 ? d : ""));
    const right = svg.append("g").attr("transform", `translate(${colX[c] + colW},0)`)
      .call(d3.axisRight(y).tickValues(yTickVals[r]).tickSize(-6).tickFormat(""));
    [bottom, top, left, right].forEach(a => {
      a.select(".domain").remove();
      a.selectAll(".tick line").attr("stroke-width", 1.6);
      a.selectAll("text").attr("font-size", fs).attr("font-family", "Liberation Sans, Arial, sans-serif").attr("fill", "#000");
    });

    // frame
    svg.append("rect").attr("x", colX[c]).attr("y", rowY[r]).attr("width", colW)
      .attr("height", rowY[r + 1] - rowY[r]).attr("fill", "none").attr("stroke", "#000").attr("stroke-width", 2);

    if (letters[r][c]) {
      svg.append("text").attr("x", colX[c] + 14).attr("y", rowY[r] + 30).attr("font-size", 20).text(letters[r][c]);
    }
  }
}

// label on the clipped 155 mm bar
svg.append("text").attr("x", 719).attr("y", 83).attr("font-size", 15.5).text("155 mm");

// temperature legend (panel d)
const lt = svg.append("g");
lt.append("rect").attr("x", 150).attr("y", 229).attr("width", 210).attr("height", 31)
  .attr("fill", "#fff").attr("stroke", "#000").attr("stroke-width", 1.3);
lt.append("line").attr("x1", 154).attr("x2", 203).attr("y1", 244).attr("y2", 244).attr("stroke", "#000").attr("stroke-width", 1.4);
lt.append("text").attr("x", 208).attr("y", 251.5).attr("font-size", 21).text("Max");
lt.append("line").attr("x1", 267).attr("x2", 317).attr("y1", 244).attr("y2", 244).attr("stroke", GRAY).attr("stroke-width", 1.4);
lt.append("text").attr("x", 322).attr("y", 251.5).attr("font-size", 21).text("Min");

// water level legend (panel i)
const lw = svg.append("g");
lw.append("rect").attr("x", 961).attr("y", 503).attr("width", 126).attr("height", 84)
  .attr("fill", "#fff").attr("stroke", "#000").attr("stroke-width", 1.3);
[["CF", 518], ["AWD", 545], ["AWDS", 572]].forEach(([k, yy]) => {
  lw.append("line").attr("x1", 964).attr("x2", 1013).attr("y1", yy).attr("y2", yy)
    .attr("stroke", style[k].color).attr("stroke-width", style[k].w).attr("stroke-dasharray", style[k].dash);
  lw.append("text").attr("x", 1018).attr("y", yy + 7.5).attr("font-size", 21).text(k);
});

// flux legend (panel j)
const lf = svg.append("g");
lf.append("rect").attr("x", 150).attr("y", 622).attr("width", 128).attr("height", 85)
  .attr("fill", "#fff").attr("stroke", "#000").attr("stroke-width", 1.3);
[["CF", 637.5], ["AWD", 664.5], ["AWDS", 691.5]].forEach(([k, yy]) => {
  lf.append("line").attr("x1", 153).attr("x2", 203).attr("y1", yy).attr("y2", yy)
    .attr("stroke", style[k].color).attr("stroke-width", style[k].w).attr("stroke-dasharray", style[k].dash);
  drawMarker(lf, 178, yy, k);
  lf.append("text").attr("x", 208).attr("y", yy + 7.5).attr("font-size", 21).text(k);
});

// axis titles (sub/superscripts via dy shifts)
function yTitle(cy, build) {
  const t = svg.append("text").attr("transform", `translate(45,${cy}) rotate(-90)`)
    .attr("text-anchor", "middle").attr("font-size", 21);
  build(t);
}
function rich(t, parts) {
  let off = 0;
  parts.forEach(([s, kind]) => {
    const target = kind === "sub" ? 5 : kind === "sup" ? -8 : 0;
    const ts = t.append("tspan").attr("dy", target - off).text(s);
    if (kind) ts.attr("font-size", 14);
    off = target;
  });
}
yTitle(126, t => t.text("Rainfall (mm)"));
yTitle(294, t => t.text("Temperature (\u00B0C)"));
yTitle(484, t => t.text("Water level (cm)"));
yTitle(709, t => rich(t, [["CH"], ["4", "sub"], [" (mg CH"], ["4", "sub"], [" m"], ["-2", "sup"], [" h"], ["-1", "sup"], [")"]]));
yTitle(941, t => rich(t, [["N"], ["2", "sub"], ["O (\u00B5g N m"], ["-2", "sup"], [" h"], ["-1", "sup"], [")"]]));
svg.append("text").attr("x", 690).attr("y", 1134).attr("text-anchor", "middle").attr("font-size", 20)
  .text("Days after seeding");
</script>
</body>
</html>
